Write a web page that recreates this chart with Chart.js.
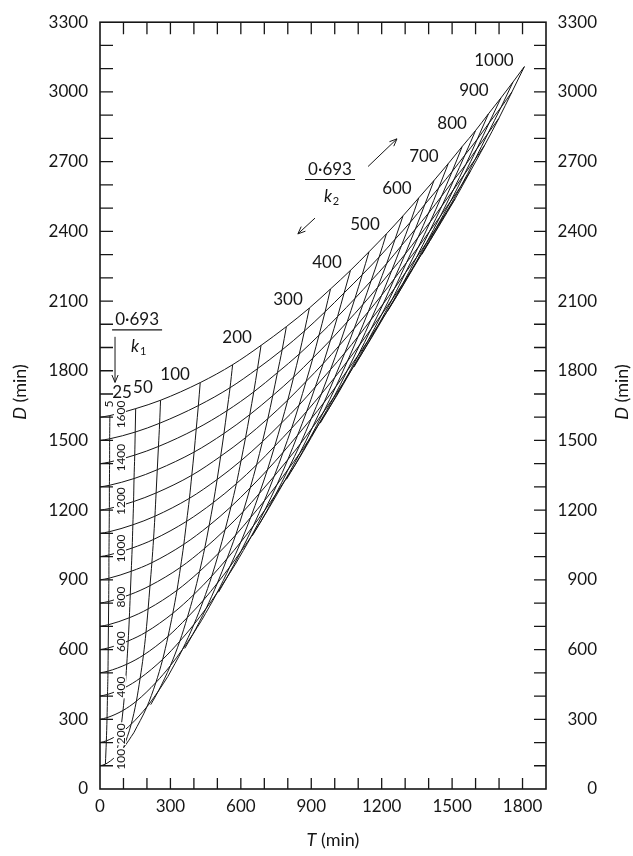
<!DOCTYPE html>
<html>
<head>
<meta charset="utf-8">
<script src="https://cdn.jsdelivr.net/npm/chart.js@4"></script>
<style>
  html, body { margin: 0; padding: 0; background: #fff; }
  #wrap { width: 633px; height: 856px; }
</style>
</head>
<body>
<div id="wrap"><canvas id="chart" width="633" height="856"></canvas></div>
<script>
// 0.693/k1 (min): one curve each, rising from the left axis
const halfLife1 = [100, 200, 300, 400, 500, 600, 700, 800, 900, 1000, 1100, 1200, 1300, 1400, 1500, 1600];
// 0.693/k2 (min): one steep line each
const halfLife2 = [5, 25, 50, 100, 150, 200, 250, 300, 350, 400, 450, 500, 550, 600, 650, 700, 750, 800, 850, 900, 950, 1000];
// D (min) where each k1 curve meets the left axis
const axisD = [100, 200, 300, 400, 500, 600, 700, 800, 900, 1000, 1100, 1200, 1300, 1400, 1500, 1600];

// crossings: rows follow halfLife2, columns follow halfLife1
const crossT = [
  [23, 27, 30, 32, 34, 35, 36, 37, 38, 38, 39, 40, 40, 41, 41, 42],
  [67, 86, 98, 107, 114, 120, 125, 129, 133, 137, 140, 143, 145, 148, 150, 152],
  [100, 133, 155, 171, 185, 196, 205, 213, 221, 228, 234, 239, 244, 249, 254, 258],
  [144, 200, 238, 267, 290, 310, 328, 343, 357, 369, 381, 391, 401, 410, 419, 427],
  [null, 249, 300, 340, 372, 400, 424, 446, 465, 483, 499, 514, 528, 541, 554, 565],
  [null, 289, 351, 400, 441, 476, 506, 533, 558, 581, 601, 620, 638, 655, 671, 686],
  [null, null, 395, 452, 500, 541, 578, 610, 640, 667, 692, 715, 736, 756, 776, 794],
  [null, null, 433, 498, 553, 600, 642, 679, 713, 744, 773, 800, 825, 849, 871, 892],
  [null, null, null, 539, 600, 653, 700, 742, 780, 816, 848, 878, 907, 933, 959, 982],
  [null, null, null, 577, 644, 702, 754, 800, 842, 881, 917, 951, 982, 1012, 1040, 1067],
  [null, null, null, null, 684, 747, 803, 854, 900, 943, 982, 1019, 1053, 1086, 1117, 1146],
  [null, null, null, null, 721, 789, 850, 904, 954, 1000, 1043, 1083, 1120, 1155, 1189, 1220],
  [null, null, null, null, null, 829, 893, 952, 1005, 1054, 1100, 1143, 1183, 1221, 1257, 1291],
  [null, null, null, null, null, 866, 934, 996, 1053, 1106, 1154, 1200, 1243, 1284, 1322, 1358],
  [null, null, null, null, null, null, 973, 1038, 1099, 1154, 1206, 1254, 1300, 1343, 1384, 1423],
  [null, null, null, null, null, null, 1010, 1078, 1142, 1201, 1255, 1306, 1355, 1400, 1443, 1484],
  [null, null, null, null, null, null, null, 1117, 1184, 1245, 1302, 1356, 1407, 1455, 1500, 1543],
  [null, null, null, null, null, null, null, 1154, 1224, 1288, 1348, 1404, 1457, 1507, 1555, 1600],
  [null, null, null, null, null, null, null, null, 1262, 1329, 1391, 1450, 1505, 1558, 1607, 1655],
  [null, null, null, null, null, null, null, null, 1298, 1368, 1433, 1494, 1552, 1606, 1658, 1708],
  [null, null, null, null, null, null, null, null, null, 1406, 1474, 1537, 1597, 1653, 1708, 1759],
  [null, null, null, null, null, null, null, null, null, 1443, 1513, 1578, 1640, 1699, 1755, 1808]
];
const crossD = [
  [107, 207, 307, 407, 507, 607, 707, 807, 907, 1007, 1107, 1207, 1307, 1407, 1507, 1607],
  [140, 239, 338, 437, 537, 637, 737, 837, 937, 1037, 1137, 1237, 1336, 1437, 1536, 1637],
  [177, 279, 378, 477, 576, 675, 775, 875, 974, 1074, 1174, 1274, 1374, 1474, 1574, 1673],
  [242, 354, 458, 558, 657, 756, 855, 954, 1053, 1152, 1251, 1350, 1450, 1550, 1650, 1749],
  [null, 422, 531, 636, 738, 837, 936, 1036, 1134, 1233, 1332, 1432, 1530, 1628, 1727, 1826],
  [null, 484, 600, 708, 813, 916, 1016, 1116, 1215, 1314, 1413, 1512, 1611, 1709, 1809, 1909],
  [null, null, 665, 777, 886, 991, 1093, 1194, 1296, 1395, 1495, 1594, 1693, 1792, 1890, 1990],
  [null, null, 726, 843, 956, 1063, 1169, 1272, 1373, 1475, 1575, 1674, 1773, 1872, 1971, 2070],
  [null, null, null, 907, 1022, 1132, 1240, 1346, 1449, 1552, 1652, 1754, 1855, 1953, 2054, 2152],
  [null, null, null, 968, 1086, 1200, 1310, 1417, 1523, 1626, 1730, 1831, 1932, 2033, 2135, 2232],
  [null, null, null, null, 1149, 1265, 1378, 1486, 1594, 1700, 1805, 1908, 2010, 2111, 2213, 2312],
  [null, null, null, null, 1211, 1330, 1443, 1554, 1663, 1771, 1877, 1982, 2085, 2187, 2289, 2389],
  [null, null, null, null, null, 1391, 1507, 1622, 1732, 1841, 1948, 2054, 2159, 2261, 2366, 2467],
  [null, null, null, null, null, 1453, 1573, 1686, 1800, 1911, 2019, 2125, 2232, 2338, 2439, 2544],
  [null, null, null, null, null, null, 1634, 1750, 1865, 1978, 2087, 2196, 2302, 2409, 2516, 2619],
  [null, null, null, null, null, null, 1695, 1815, 1930, 2044, 2155, 2266, 2374, 2479, 2587, 2692],
  [null, null, null, null, null, null, null, 1876, 1994, 2108, 2223, 2332, 2441, 2551, 2657, 2765],
  [null, null, null, null, null, null, null, 1937, 2057, 2171, 2287, 2400, 2510, 2621, 2729, 2834],
  [null, null, null, null, null, null, null, null, 2118, 2236, 2351, 2465, 2578, 2687, 2796, 2906],
  [null, null, null, null, null, null, null, null, 2179, 2299, 2416, 2530, 2645, 2756, 2867, 2974],
  [null, null, null, null, null, null, null, null, null, 2360, 2480, 2593, 2708, 2822, 2933, 3042],
  [null, null, null, null, null, null, null, null, null, 2421, 2540, 2659, 2773, 2886, 3000, 3109]
];
// lower ends of the in-between lines, on the edge of the grid
const edgeT = [null, null, null, null, 216, null, 361, null, 505, null, 649, null, 794, null, 938, null, 1082, null, 1226, null, 1371, null];
const edgeD = [null, null, null, null, 363, null, 605, null, 847, null, 1090, null, 1332, null, 1574, null, 1816, null, 2058, null, 2300, null];

const xTickLabels = [0, 300, 600, 900, 1200, 1500, 1800];
const yTickLabels = [0, 300, 600, 900, 1200, 1500, 1800, 2100, 2400, 2700, 3000, 3300];
// labels written on the grid
const k1Labels = ["5", "1600", "1400", "1200", "1000", "800", "600", "400", "200", "100"];
const k2Labels = ["25", "50", "100", "200", "300", "400", "500", "600", "700", "800", "900", "1000"];

// where those labels sit, in T / D units
const k1LabelAt = [[34, 1657], [85, 1612], [85, 1426], [85, 1239], [85, 1035], [85, 826], [85, 634], [85, 439], [85, 238], [85, 128]];
const k2LabelAt = [[94, 1708], [183, 1729], [320, 1784], [584, 1942], [801, 2108], [967, 2266], [1129, 2428],
  [1265, 2585], [1380, 2721], [1500, 2866], [1593, 3007], [1678, 3135]];

const INK = "#161616";
const FONT = "Lato";

function lineSet(label, data) {
  return {
    label: label,
    data: data,
    showLine: true,
    borderColor: INK,
    borderWidth: 1,
    pointRadius: 0,
    cubicInterpolationMode: "monotone",
  };
}

const datasets = [];
halfLife1.forEach((h1, col) => {
  const pts = [{ x: 0, y: axisD[col] }];
  halfLife2.forEach((h2, row) => {
    if (crossT[row][col] !== null) {
      pts.push({ x: crossT[row][col], y: crossD[row][col] });
    }
  });
  datasets.push(lineSet("k1 " + h1, pts));
});
halfLife2.forEach((h2, row) => {
  const pts = [];
  if (edgeT[row] !== null) {
    pts.push({ x: edgeT[row], y: edgeD[row] });
  }
  halfLife1.forEach((h1, col) => {
    if (crossT[row][col] !== null) {
      pts.push({ x: crossT[row][col], y: crossD[row][col] });
    }
  });
  datasets.push(lineSet("k2 " + h2, pts));
});

function arrow(ctx, x1, y1, x2, y2) {
  const a = Math.atan2(y2 - y1, x2 - x1);
  const len = 8;
  ctx.beginPath();
  ctx.moveTo(x1, y1);
  ctx.lineTo(x2, y2);
  ctx.moveTo(x2 - len * Math.cos(a - 0.4), y2 - len * Math.sin(a - 0.4));
  ctx.lineTo(x2, y2);
  ctx.lineTo(x2 - len * Math.cos(a + 0.4), y2 - len * Math.sin(a + 0.4));
  ctx.stroke();
}

// "D (min)" style text: italic letter then plain unit, centred on (cx, cy)
function axisTitle(ctx, letter, cx, cy, rotate) {
  ctx.save();
  ctx.translate(cx, cy);
  if (rotate) ctx.rotate(-Math.PI / 2);
  ctx.textBaseline = "middle";
  ctx.textAlign = "left";
  const f1 = "italic 18px " + FONT;
  const f2 = "18px " + FONT;
  ctx.font = f1;
  const w1 = ctx.measureText(letter).width;
  ctx.font = f2;
  const w2 = ctx.measureText(" (min)").width;
  let x = -(w1 + w2) / 2;
  ctx.font = f1;
  ctx.fillText(letter, x, 0);
  ctx.font = f2;
  ctx.fillText(" (min)", x + w1, 0);
  ctx.restore();
}

function fraction(ctx, cx, cy, sub) {
  ctx.save();
  ctx.textAlign = "center";
  ctx.textBaseline = "middle";
  ctx.font = "17px " + FONT;
  ctx.fillText("0\u00b7693", cx, cy);
  ctx.lineWidth = 1.2;
  ctx.beginPath();
  ctx.moveTo(cx - 25, cy + 10);
  ctx.lineTo(cx + 25, cy + 10);
  ctx.stroke();
  ctx.font = "italic 17px " + FONT;
  ctx.fillText("k", cx - 2, cy + 27);
  ctx.font = "11px " + FONT;
  ctx.fillText(sub, cx + 6, cy + 32);
  ctx.restore();
}

const gridDecor = {
  id: "gridDecor",
  afterDraw(chart) {
    const { ctx, chartArea: a, scales } = chart;
    const px = (v) => scales.x.getPixelForValue(v);
    const py = (v) => scales.y.getPixelForValue(v);
    ctx.save();
    ctx.fillStyle = INK;
    ctx.strokeStyle = INK;

    // rotated 0.693/k1 labels with a white patch behind them
    ctx.font = "12px " + FONT;
    ctx.textAlign = "center";
    ctx.textBaseline = "middle";
    k1Labels.forEach((txt, i) => {
      const [t, d] = k1LabelAt[i];
      ctx.save();
      ctx.translate(px(t), py(d));
      ctx.rotate(-Math.PI / 2);
      const w = ctx.measureText(txt).width;
      ctx.fillStyle = "#fff";
      ctx.fillRect(-w / 2 - 1, -6, w + 2, 12);
      ctx.fillStyle = INK;
      ctx.fillText(txt, 0, 1);
      ctx.restore();
    });

    // 0.693/k2 labels along the top curve
    ctx.font = "17px " + FONT;
    k2Labels.forEach((txt, i) => {
      const [t, d] = k2LabelAt[i];
      ctx.fillText(txt, px(t), py(d));
    });

    // fractions and arrows
    fraction(ctx, px(158), py(2019), "1");
    fraction(ctx, px(980), py(2666), "2");
    ctx.lineWidth = 1;
    arrow(ctx, px(64), py(1946), px(64), py(1750));
    arrow(ctx, px(1142), py(2679), px(1265), py(2798));
    arrow(ctx, px(916), py(2457), px(843), py(2389));

    // frame with inward ticks every 100 min
    ctx.lineWidth = 1.6;
    ctx.strokeRect(a.left, a.top, a.right - a.left, a.bottom - a.top);
    ctx.lineWidth = 1.3;
    ctx.beginPath();
    for (let v = 100; v <= 1800; v += 100) {
      const X = px(v);
      ctx.moveTo(X, a.bottom);
      ctx.lineTo(X, a.bottom - 11);
      ctx.moveTo(X, a.top);
      ctx.lineTo(X, a.top + 12);
    }
    for (let v = 100; v <= 3200; v += 100) {
      const Y = py(v);
      ctx.moveTo(a.left, Y);
      ctx.lineTo(a.left + 13, Y);
      ctx.moveTo(a.right, Y);
      ctx.lineTo(a.right - 12, Y);
    }
    ctx.stroke();

    // axis titles
    axisTitle(ctx, "D", 20, 392, true);
    axisTitle(ctx, "D", 622, 392, true);
    axisTitle(ctx, "T", 333, 840, false);
    ctx.restore();
  },
};

function fixedTicks(values) {
  return (scale) => {
    scale.ticks = values.map((v) => ({ value: v }));
  };
}
const plainNumber = (v) => String(v);

Chart.defaults.font.family = FONT;
Chart.defaults.font.size = 17;
Chart.defaults.color = INK;

new Chart(document.getElementById("chart"), {
  type: "scatter",
  data: { datasets: datasets },
  options: {
    responsive: false,
    animation: false,
    devicePixelRatio: 1,
    layout: { padding: { top: 14, right: 36, bottom: 0, left: 0 } },
    plugins: {
      legend: { display: false },
      tooltip: { enabled: false },
    },
    events: [],
    scales: {
      x: {
        type: "linear",
        min: 0,
        max: 1900,
        grid: { display: false, drawTicks: false },
        border: { display: false },
        ticks: { padding: 7, autoSkip: false, maxRotation: 0, callback: plainNumber },
        afterBuildTicks: fixedTicks(xTickLabels),
        afterFit: (s) => { s.height = 67; },
      },
      y: {
        type: "linear",
        position: "left",
        min: 0,
        max: 3300,
        grid: { display: false, drawTicks: false },
        border: { display: false },
        ticks: { padding: 12, autoSkip: false, callback: plainNumber },
        afterBuildTicks: fixedTicks(yTickLabels),
        afterFit: (s) => { s.width = 100; },
      },
      y2: {
        type: "linear",
        position: "right",
        min: 0,
        max: 3300,
        grid: { display: false, drawTicks: false },
        border: { display: false },
        ticks: { padding: 10, autoSkip: false, crossAlign: "far", callback: plainNumber },
        afterBuildTicks: fixedTicks(yTickLabels),
        afterFit: (s) => { s.width = 51; },
      },
    },
  },
  plugins: [gridDecor],
});
</script>
</body>
</html>
